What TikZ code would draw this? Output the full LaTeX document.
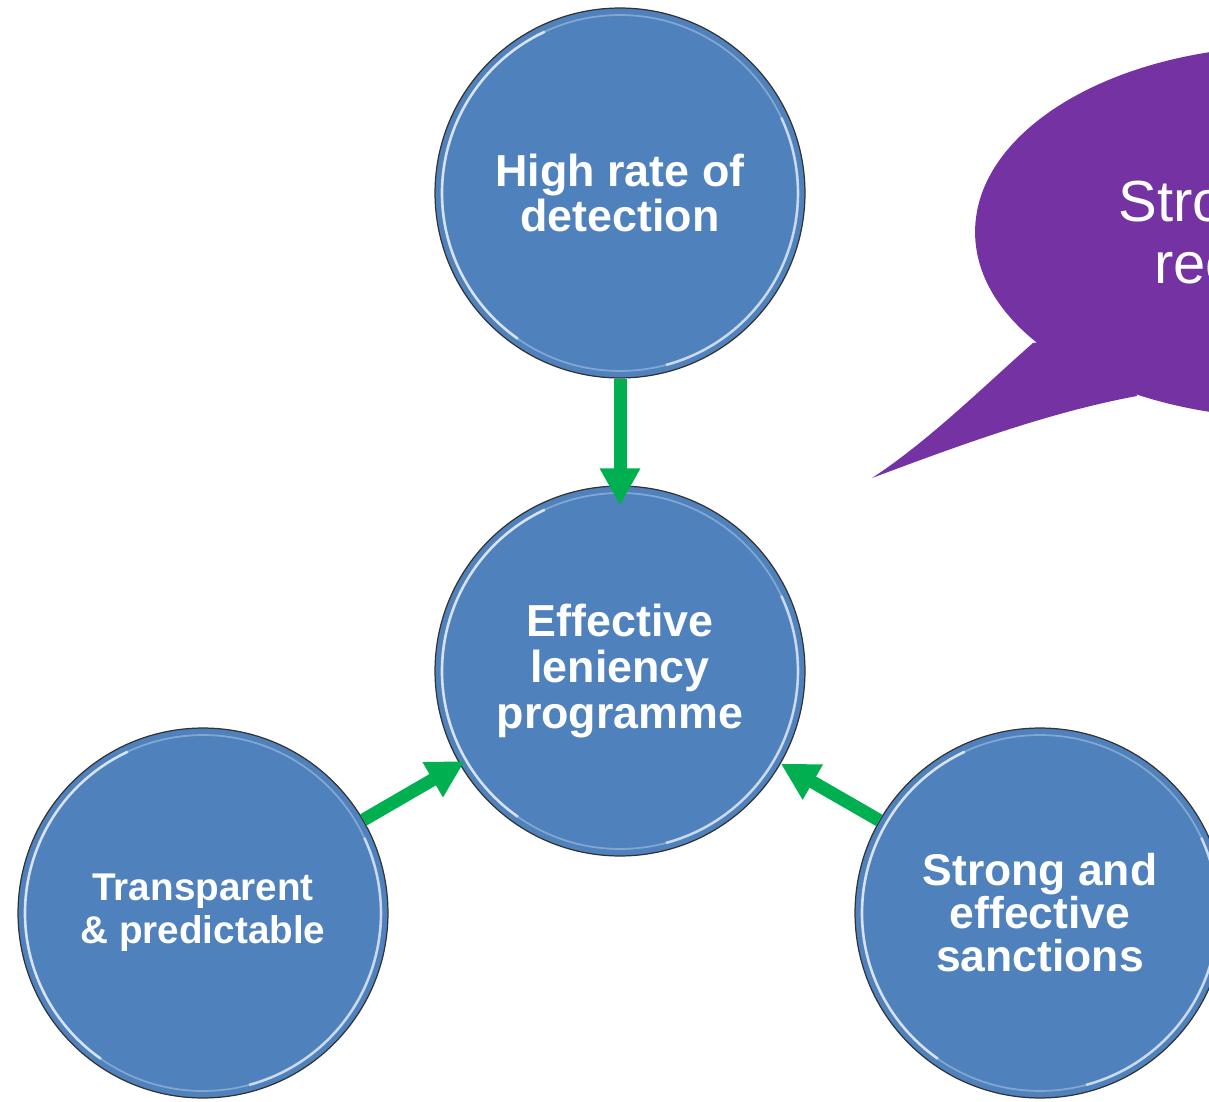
\documentclass[tikz,border=0pt]{standalone}
\usepackage{fontspec}
\setmainfont{Liberation Sans}
\usetikzlibrary{arrows.meta}
\definecolor{cblue}{RGB}{79,129,189}
\definecolor{cpurple}{RGB}{116,50,162}
\definecolor{cgreen}{RGB}{0,176,80}
\begin{document}
\begin{tikzpicture}[x=0.02cm,y=-0.02cm,
  disc/.style={circle, minimum size=7.4cm, inner sep=0pt, fill=cblue,
    draw=black!80, line width=0.7pt, text=white, align=center,
    path picture={
      \draw[white, opacity=0.3, line width=1pt]
        (path picture bounding box.center) circle (3.56cm);
      \draw[white, opacity=0.7, line width=1.5pt]
        (path picture bounding box.center) ++(115:3.56cm) arc (115:235:3.56cm);
      \draw[white, opacity=0.6, line width=1.5pt]
        (path picture bounding box.center) ++(-75:3.56cm) arc (-75:25:3.56cm);
    }},
  bigtxt/.style={font=\fontsize{25.5}{25.6}\selectfont\bfseries},
  link/.style={draw=cgreen, line width=0.26cm,
    -{Triangle[length=0.74cm,width=0.76cm]}},
  btxt/.style={anchor=base west, inner sep=0pt, text=white,
    font=\fontsize{33}{40}\selectfont}]
\useasboundingbox (0,0) rectangle (1209,1101);
\begin{scope}
\clip (0,0) rectangle (1209,1101);
% speech bubble
\fill[cpurple] (1290,232) ellipse [x radius=6.3cm, y radius=3.72cm];
\fill[cpurple] (1033,343) .. controls (985,385) and (930,440) .. (872,478)
  .. controls (960,445) and (1050,412) .. (1137,396) -- (1120,330) -- cycle;
\node[btxt] (b1) at (1118,222) {Stro};
\node[btxt] (b2) at (1154,284) {rec};
% circles
\node[disc, bigtxt] (top) at (620,193) {High rate of\\detection};
\node[disc, font=\fontsize{25.5}{26.2}\selectfont\bfseries] (mid) at (620,671)
  {Effective\\leniency\\programme};
\node[disc, font=\fontsize{22}{24.5}\selectfont\bfseries] (lft) at (203,913)
  {Transparent\\\& predictable};
\node[disc, font=\fontsize{25.3}{24.5}\selectfont\bfseries] (rgt) at (1040,913)
  {Strong and\\effective\\sanctions};
% connectors
\draw[link, shorten >=-0.4cm] (top) -- (mid);
\draw[link, shorten >=-0.12cm] (lft) -- (mid);
\draw[link] (rgt) -- (mid);
\end{scope}
\end{tikzpicture}
\end{document}
